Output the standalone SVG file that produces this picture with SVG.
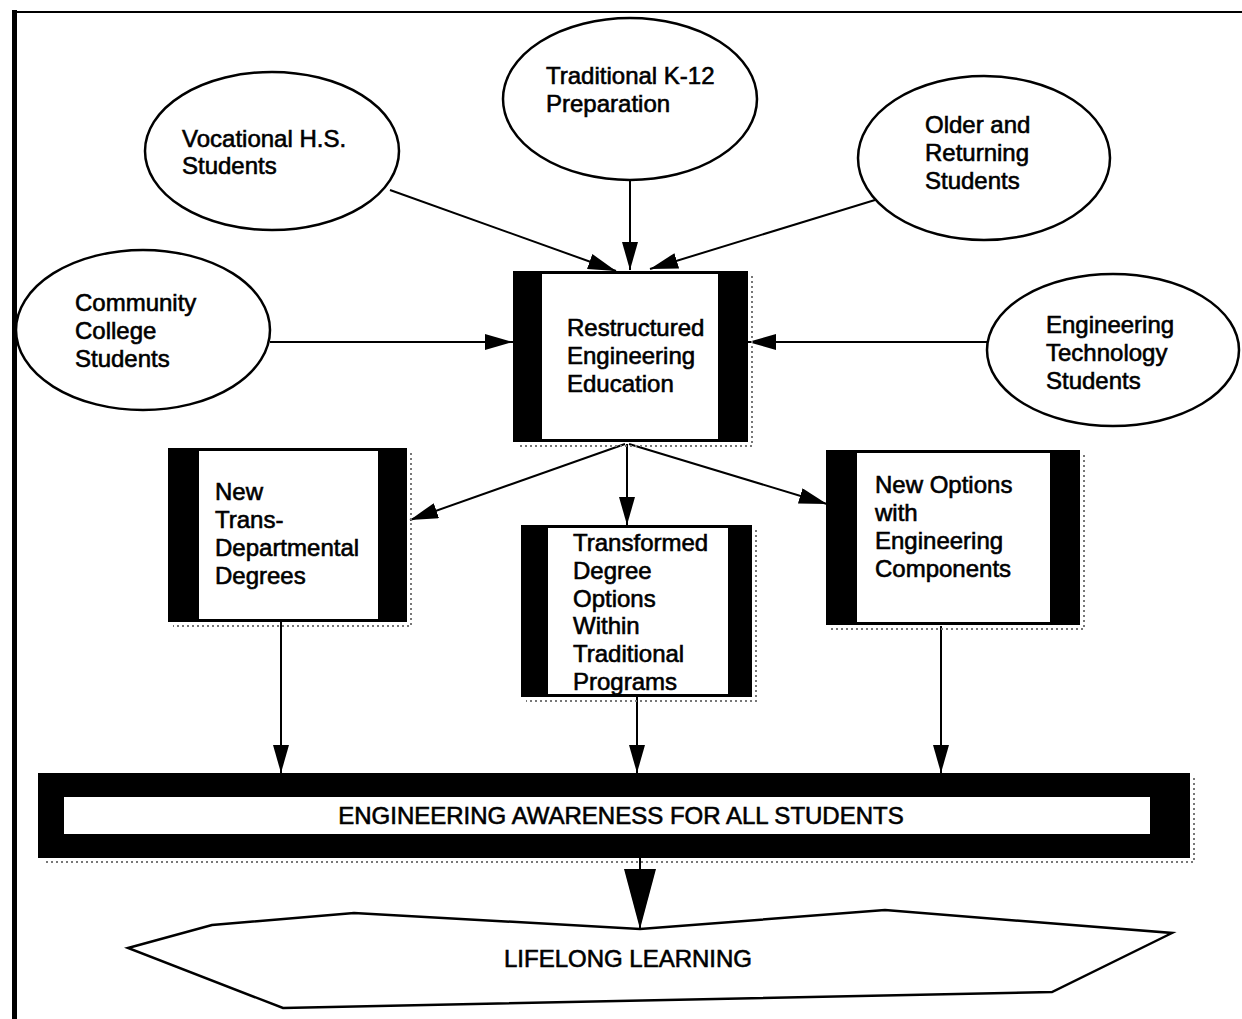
<svg xmlns="http://www.w3.org/2000/svg" width="1242" height="1019" viewBox="0 0 1242 1019">
<defs>
<style>
.t{font-family:"Liberation Sans",Arial,sans-serif;font-size:24px;fill:#000;stroke:#000;stroke-width:0.6}
.c{text-anchor:middle}
.ell{fill:#fff;stroke:#000;stroke-width:2.5}
.blk{fill:#000}
.wht{fill:#fff}
.ln{stroke:#000;stroke-width:2;fill:none}
.sh{stroke:#777;stroke-width:2;fill:none;stroke-dasharray:2 3}
</style>
<marker id="ah" viewBox="0 0 28 16" refX="28" refY="8" markerWidth="28" markerHeight="16" markerUnits="userSpaceOnUse" orient="auto">
<path d="M0,0 L28,8 L0,16 Z" fill="#000"/>
</marker>
<marker id="ahb" viewBox="0 0 60 32" refX="60" refY="16" markerWidth="60" markerHeight="32" markerUnits="userSpaceOnUse" orient="auto">
<path d="M0,0 L60,16 L0,32 Z" fill="#000"/>
</marker>
</defs>
<rect width="1242" height="1019" fill="#fff"/>
<g id="frame">
<rect x="12" y="10" width="5" height="1009" fill="#000"/>
<rect x="12" y="11" width="1230" height="2" fill="#000"/>
</g>
<g id="connectors">
<line class="ln" x1="390" y1="190" x2="616" y2="271" marker-end="url(#ah)"/>
<line class="ln" x1="630" y1="180" x2="630" y2="270" marker-end="url(#ah)"/>
<line class="ln" x1="875" y1="200" x2="650" y2="269" marker-end="url(#ah)"/>
<line class="ln" x1="270" y1="342" x2="513" y2="342" marker-end="url(#ah)"/>
<line class="ln" x1="988" y1="342" x2="748" y2="342" marker-end="url(#ah)"/>
<line class="ln" x1="625" y1="444" x2="410" y2="520" marker-end="url(#ah)"/>
<line class="ln" x1="627" y1="444" x2="627" y2="525" marker-end="url(#ah)"/>
<line class="ln" x1="629" y1="444" x2="827" y2="504" marker-end="url(#ah)"/>
<line class="ln" x1="281" y1="622" x2="281" y2="773" marker-end="url(#ah)"/>
<line class="ln" x1="637" y1="697" x2="637" y2="773" marker-end="url(#ah)"/>
<line class="ln" x1="941" y1="626" x2="941" y2="773" marker-end="url(#ah)"/>
<line class="ln" x1="640" y1="858" x2="640" y2="929" marker-end="url(#ahb)"/>
</g>
<g id="vocational">
<ellipse class="ell" cx="272" cy="151" rx="127" ry="79"/>
<text class="t" x="182" y="147">Vocational H.S.</text>
<text class="t" x="182" y="174">Students</text>
</g>
<g id="k12">
<ellipse class="ell" cx="630" cy="99" rx="127" ry="81"/>
<text class="t" x="546" y="84">Traditional K-12</text>
<text class="t" x="546" y="112">Preparation</text>
</g>
<g id="older">
<ellipse class="ell" cx="984" cy="158" rx="126" ry="82"/>
<text class="t" x="925" y="133">Older and</text>
<text class="t" x="925" y="161">Returning</text>
<text class="t" x="925" y="189">Students</text>
</g>
<g id="community">
<ellipse class="ell" cx="143" cy="330" rx="127" ry="80"/>
<text class="t" x="75" y="311">Community</text>
<text class="t" x="75" y="339">College</text>
<text class="t" x="75" y="367">Students</text>
</g>
<g id="engtech">
<ellipse class="ell" cx="1113" cy="350" rx="126" ry="76"/>
<text class="t" x="1046" y="333">Engineering</text>
<text class="t" x="1046" y="361">Technology</text>
<text class="t" x="1046" y="389">Students</text>
</g>
<g id="restructured">
<rect class="blk" x="513" y="271" width="235" height="171"/>
<rect class="wht" x="542" y="274" width="176" height="165"/>
<path class="sh" d="M752,276 V446 H518"/>
<text class="t" x="567" y="336">Restructured</text>
<text class="t" x="567" y="364">Engineering</text>
<text class="t" x="567" y="392">Education</text>
</g>
<g id="transdept">
<rect class="blk" x="168" y="448" width="239" height="174"/>
<rect class="wht" x="199" y="451" width="179" height="168"/>
<path class="sh" d="M411,453 V626 H173"/>
<text class="t" x="215" y="500">New</text>
<text class="t" x="215" y="528">Trans-</text>
<text class="t" x="215" y="556">Departmental</text>
<text class="t" x="215" y="584">Degrees</text>
</g>
<g id="transformed">
<rect class="blk" x="521" y="525" width="231" height="172"/>
<rect class="wht" x="548" y="528" width="180" height="166"/>
<path class="sh" d="M756,530 V701 H526"/>
<text class="t" x="573" y="551">Transformed</text>
<text class="t" x="573" y="579">Degree</text>
<text class="t" x="573" y="607">Options</text>
<text class="t" x="573" y="634">Within</text>
<text class="t" x="573" y="662">Traditional</text>
<text class="t" x="573" y="690">Programs</text>
</g>
<g id="newoptions">
<rect class="blk" x="826" y="450" width="254" height="175"/>
<rect class="wht" x="857" y="453" width="193" height="169"/>
<path class="sh" d="M1084,455 V629 H831"/>
<text class="t" x="875" y="493">New Options</text>
<text class="t" x="875" y="521">with</text>
<text class="t" x="875" y="549">Engineering</text>
<text class="t" x="875" y="577">Components</text>
</g>
<g id="awareness">
<rect class="blk" x="38" y="773" width="1152" height="85"/>
<rect class="wht" x="64" y="797" width="1086" height="37"/>
<path class="sh" d="M1194,778 V862 H43"/>
<text class="t c" x="621" y="824">ENGINEERING AWARENESS FOR ALL STUDENTS</text>
</g>
<g id="lifelong">
<polygon points="128,948 212,925 354,913 640,929 885,910 1172,933 1052,992 283,1008" fill="#fff" stroke="#000" stroke-width="2.5" stroke-linejoin="miter"/>
<text class="t c" x="628" y="967">LIFELONG LEARNING</text>
</g>
</svg>
